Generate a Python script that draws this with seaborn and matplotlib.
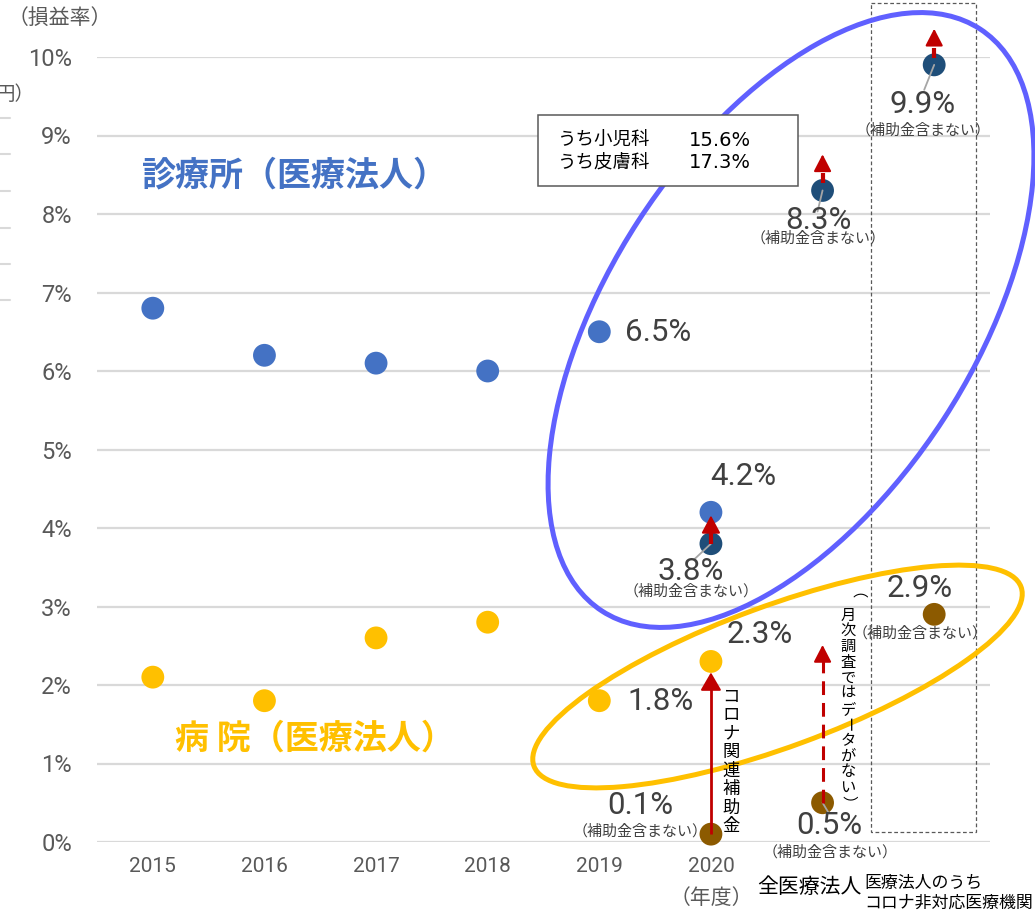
import numpy as np
import pandas as pd
import matplotlib
matplotlib.use("Agg")
import matplotlib.pyplot as plt
import matplotlib.transforms as mtransforms
from matplotlib.patches import Ellipse, Rectangle
from matplotlib.lines import Line2D
import seaborn as sns

# ---------------- data ----------------
categories = ["2015", "2016", "2017", "2018", "2019", "2020",
              "全医療法人", "医療法人のうち\nコロナ非対応医療機関"]
years = categories[:6]
clinic_values = [6.8, 6.2, 6.1, 6.0, 6.5, 4.2]
excl_categories = ["2020", "全医療法人", "医療法人のうち\nコロナ非対応医療機関"]
clinic_excl_values = [3.8, 8.3, 9.9]
hospital_values = [2.1, 1.8, 2.6, 2.8, 1.8, 2.3]
hospital_excl_values = [0.1, 0.5, 2.9]
sub_specialty_labels = ["うち小児科", "うち皮膚科"]
sub_specialty_values = [15.6, 17.3]
ytick_values = list(range(0, 11))
ytick_labels = [f"{v}%" for v in ytick_values]

# ---------------- style ----------------
sns.set_theme(style="white")
plt.rcParams["font.family"] = ["Noto Sans CJK JP", "DejaVu Sans"]
NUM = ["Roboto", "DejaVu Sans"]
C_CLINIC = "#4472C4"
C_CLINIC_X = "#1F4E79"
C_HOSP = "#FFC000"
C_HOSP_X = "#8C5A00"
RED = "#C00000"
LBL = "#404040"
TICK = "#595959"
GRID = "#D9D9D9"

W, H = 1035, 910
fig = plt.figure(figsize=(W / 100, H / 100), dpi=100)
ax = fig.add_axes([97 / W, 1 - 842 / H, (990 - 97) / W, (842 - 57) / H])
pix = mtransforms.Affine2D().scale(1 / W, -1 / H).translate(0, 1) + fig.transFigure

pos = {c: i for i, c in enumerate(categories)}
rows = []
for c, v in zip(years, clinic_values):
    rows.append((pos[c], v, "clinic"))
for c, v in zip(excl_categories, clinic_excl_values):
    rows.append((pos[c], v, "clinic_x"))
for c, v in zip(years, hospital_values):
    rows.append((pos[c], v, "hosp"))
for c, v in zip(excl_categories, hospital_excl_values):
    rows.append((pos[c], v, "hosp_x"))
df = pd.DataFrame(rows, columns=["x", "value", "series"])

sns.scatterplot(data=df, x="x", y="value", hue="series",
                palette={"clinic": C_CLINIC, "clinic_x": C_CLINIC_X,
                         "hosp": C_HOSP, "hosp_x": C_HOSP_X},
                s=270, linewidth=0, legend=False, ax=ax, zorder=4, clip_on=False)

ax.set_xlim(-0.5, 7.5)
ax.set_ylim(0, 10)
ax.set_yticks(ytick_values)
ax.set_yticklabels(ytick_labels, fontfamily=NUM, fontsize=17, color=TICK)
ax.set_xticks(range(len(years)))
ax.set_xticklabels(years, fontfamily="Roboto", fontsize=15, color=TICK)
ax.tick_params(axis="y", length=0, pad=18)
ax.tick_params(axis="x", length=0, pad=11)
ax.set_xlabel("")
ax.set_ylabel("")
ax.grid(axis="y", color=GRID, lw=1.6)
ax.grid(axis="x", visible=False)
ax.set_axisbelow(True)
sns.despine(ax=ax, left=True, bottom=True)

# ---------------- extra category labels ----------------
xt = ax.get_xaxis_transform()
ax.annotate("（年度）", xy=(pos["2020"], 0), xycoords=xt, xytext=(0, -56),
            textcoords="offset pixels", ha="center", va="center", fontsize=15,
            color=TICK, annotation_clip=False)
ax.annotate(categories[6], xy=(6, 0), xycoords=xt, xytext=(-13, -45),
            textcoords="offset pixels", ha="center", va="center", fontsize=15,
            color="black", annotation_clip=False)
ax.annotate(categories[7], xy=(7, 0), xycoords=xt, xytext=(-70, -51),
            textcoords="offset pixels", ha="left", va="center", fontsize=12.2,
            color="black", linespacing=1.1, annotation_clip=False)

# ---------------- headers / stray partial axis ----------------
fig.text(8 / W, 1 - 18 / H, "（損益率）", fontsize=15, color=TICK, ha="left", va="center")
fig.text(-5 / W, 1 - 95 / H, "円）", fontsize=14, color=TICK, ha="left", va="center")
for yy in [118, 154, 191, 228, 264, 300]:
    fig.add_artist(Line2D([0, 10], [yy, yy], transform=pix, color=GRID, lw=1.5))

# ---------------- series titles ----------------
ax.text(1.27, 8.5, "診療所（医療法人）", color=C_CLINIC, fontsize=24.5,
        fontweight="bold", ha="center", va="center")
ax.text(1.45, 1.32, "病 院（医療法人）", color=C_HOSP, fontsize=24.5,
        fontweight="bold", ha="center", va="center")

# ---------------- value labels ----------------
def vlabel(x, v, dx, dy, size=22.5, ha="center"):
    ax.annotate(f"{v}%", xy=(x, v), xytext=(dx, dy), textcoords="offset pixels",
                ha=ha, va="center", fontsize=size, color=LBL, fontfamily=NUM,
                zorder=6, annotation_clip=False)

def sublabel(x, v, dx, dy):
    ax.annotate("（補助金含まない）", xy=(x, v), xytext=(dx, dy), textcoords="offset pixels",
                ha="center", va="center", fontsize=10.8, color=LBL, zorder=6,
                annotation_clip=False)

def leader(x, v, dx, dy):
    ax.annotate("", xy=(x, v), xytext=(dx, dy), textcoords="offset pixels",
                arrowprops=dict(arrowstyle="-", color="#A6A6A6", lw=1.3,
                                shrinkA=0, shrinkB=0), zorder=5, annotation_clip=False)

vlabel(4, clinic_values[4], 59, -1)
vlabel(5, clinic_values[5], 32, 36)
vlabel(4, hospital_values[4], 61, -1)
vlabel(5, hospital_values[5], 49, 27)

excl_off = [(-20, -28, -20, -48), (-4, -30, -4, -48), (-12, -40, -11, -65)]
for c, v, (dx, dy, sx, sy) in zip(excl_categories, clinic_excl_values, excl_off):
    vlabel(pos[c], v, dx, dy)
    sublabel(pos[c], v, sx, sy)
hosp_off = [(-71, 29, -71, 3), (7, -23, 8, -50), (-15, 26, -14, -19)]
for c, v, (dx, dy, sx, sy) in zip(excl_categories, hospital_excl_values, hosp_off):
    vlabel(pos[c], v, dx, dy)
    sublabel(pos[c], v, sx, sy)

leader(5, clinic_excl_values[0], -16, -15)
leader(6, clinic_excl_values[1], -5, -21)
leader(7, clinic_excl_values[2], -10, -25)
leader(6, hospital_excl_values[1], 6, -10)

# ---------------- arrows ----------------
def head(x, tip, size=20, hw=0.3, hl=0.55):
    ax.annotate("", xy=(x, tip), xytext=(x, tip - 0.1),
                arrowprops=dict(arrowstyle=f"-|>,head_width={hw},head_length={hl}",
                                color=RED, lw=1.5, shrinkA=0, shrinkB=0,
                                mutation_scale=size),
                zorder=7, annotation_clip=False)

# 2020 hospital: solid arrow from excl value to value
ax.plot([5, 5], [hospital_excl_values[0], hospital_values[5] - 0.25], color=RED, lw=2,
        zorder=7, solid_capstyle="butt")
head(5, hospital_values[5] - 0.14, size=20, hw=0.32, hl=0.55)
# 2020 clinic: short solid arrow
ax.plot([5, 5], [clinic_excl_values[0], clinic_values[5] - 0.2], color=RED, lw=3,
        zorder=7, solid_capstyle="butt")
head(5, clinic_values[5] - 0.04, size=18, hw=0.32, hl=0.6)
# all medical corp, hospital: dashed arrow
ax.plot([6, 6], [hospital_excl_values[1], 2.35], color=RED, lw=2.2,
        ls=(0, (4.5, 2.6)), zorder=7)
head(6, 2.51, size=18, hw=0.3, hl=0.58)
# small dashed arrows above clinic excl values
for c, v in zip(excl_categories[1:], clinic_excl_values[1:]):
    ax.plot([pos[c], pos[c]], [v + 0.09, v + 0.22], color=RED, lw=3, zorder=7,
            solid_capstyle="butt", clip_on=False)
    head(pos[c], v + 0.46, size=18, hw=0.3, hl=0.58)

# ---------------- vertical texts ----------------
def vtext(x, y0, pitch, s, size):
    for i, ch in enumerate(s):
        rot = -90 if ch in "（）ー" else 0
        fig.text(x / W, 1 - (y0 + i * pitch) / H, ch, fontsize=size, color="black",
                 ha="center", va="center", rotation=rot, rotation_mode="anchor")

vtext(731, 697, 18.4, "コロナ関連補助金", 12.5)
vtext(848, 600, 15.6, "（月次調査ではデータがない）", 11)

# ---------------- decorations ----------------
ax.add_patch(Ellipse((791, 320), 694, 364, angle=-57, transform=pix, fill=False,
                     ec="#6060FF", lw=3.6, zorder=3, clip_on=False))
ax.add_patch(Ellipse((777.5, 676.5), 519, 141, angle=-20.2, transform=pix, fill=False,
                     ec=C_HOSP, lw=3.6, zorder=3.2, clip_on=False))
ax.add_patch(Rectangle((871, 3), 105, 829, transform=pix, fill=False, ec="#595959",
                       lw=0.9, ls=(0, (3, 2)), zorder=2, clip_on=False))
ax.add_patch(Rectangle((538, 115), 260, 71, transform=pix, fc="white", ec="#595959",
                       lw=1.1, zorder=5, clip_on=False))
for i, (lab, v) in enumerate(zip(sub_specialty_labels, sub_specialty_values)):
    yy = 140 + i * 23
    fig.text(558 / W, 1 - yy / H, lab, fontsize=13.3, color="black", ha="left",
             va="center", zorder=6)
    fig.text(689 / W, 1 - yy / H, f"{v}%", fontsize=14, color="black", ha="left",
             va="center", fontfamily="DejaVu Sans", zorder=6)

fig.savefig("out.png", dpi=100)
